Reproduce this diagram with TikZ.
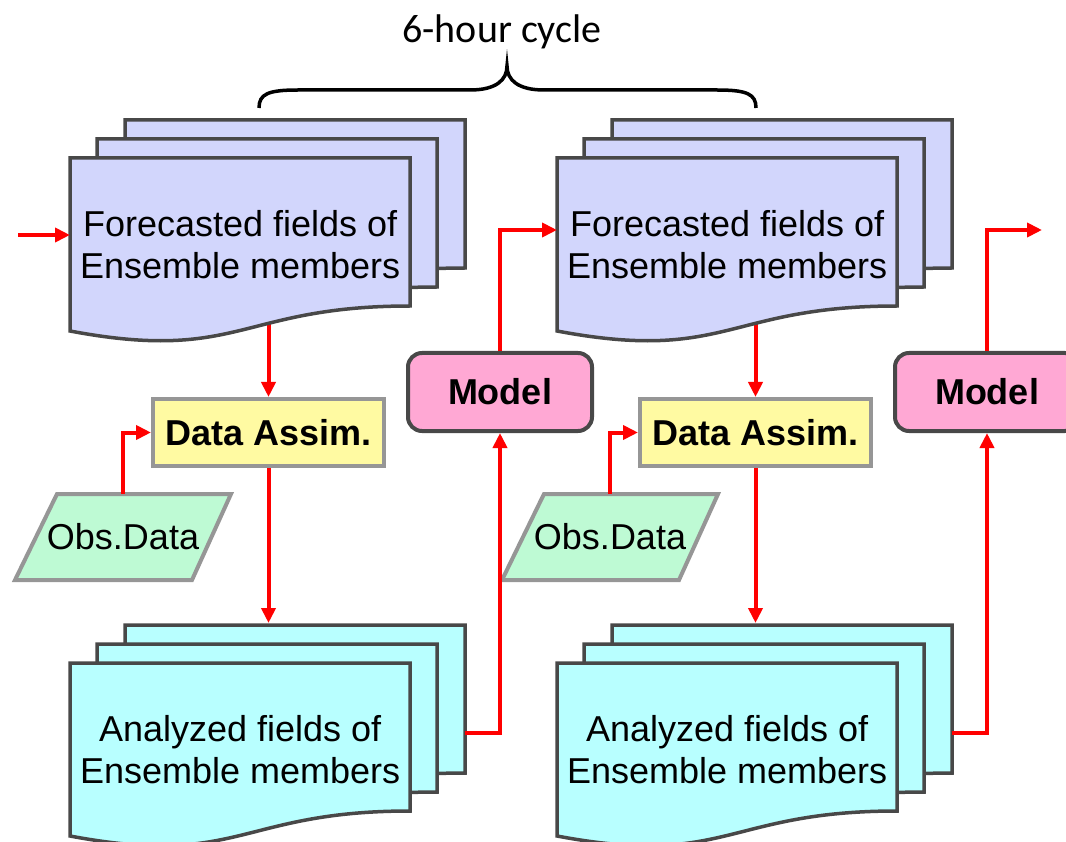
\documentclass[tikz,border=0pt]{standalone}
\usepackage{fontspec}
\setmainfont{Liberation Sans}
\newfontfamily\calib{Carlito}
\usetikzlibrary{arrows.meta,calc}
\pgfdeclarelayer{bg}
\pgfsetlayers{bg,main}
\definecolor{fcfill}{RGB}{210,214,252}
\definecolor{anfill}{RGB}{184,255,255}
\definecolor{dafill}{RGB}{255,250,162}
\definecolor{obfill}{RGB}{190,250,212}
\definecolor{mdfill}{RGB}{255,168,212}
\definecolor{dkline}{RGB}{72,72,72}
\definecolor{gyline}{RGB}{150,150,150}
\newcommand\docsheet[3]{\draw[sheet,fill=#3] (#1,#2) -- (#1+340,#2) -- (#1+340,#2+148) .. controls (#1+170,#2+148) and (#1+170,#2+205) .. (#1,#2+173) -- cycle;}
\newcommand\docstack[3]{\docsheet{#1+55}{#2-38}{#3}\docsheet{#1+27}{#2-19}{#3}\docsheet{#1}{#2}{#3}}
\newcommand\obsshape[1]{\draw[obsline] (#1+57,494) -- (#1+231,494) -- (#1+192,580) -- (#1+15,580) -- cycle;}
\tikzset{
  big/.style={font=\fontsize{36}{42}\selectfont},
  sheet/.style={draw=dkline, line width=3.5pt, line join=miter},
  area/.style={big, minimum width=340, minimum height=173, inner sep=0pt, align=center, anchor=north west},
  backarea/.style={minimum width=340, minimum height=148, inner sep=0pt, anchor=north west},
  dabox/.style={big, font=\fontsize{36}{42}\selectfont\bfseries, draw=gyline, fill=dafill, line width=4pt, minimum width=231, minimum height=67, inner sep=0pt},
  mdbox/.style={big, font=\fontsize{36}{42}\selectfont\bfseries, draw=dkline, fill=mdfill, line width=4pt, rounded corners=14pt, minimum width=184, minimum height=78, inner sep=0pt},
  obsline/.style={draw=gyline, fill=obfill, line width=4pt, line join=miter},
  obs/.style={big, minimum height=86, inner sep=0pt},
  arr/.style={draw=red, line width=4pt, -{Triangle[length=15pt,width=14pt]}},
}
\begin{document}
\begin{tikzpicture}[x=1pt,y=-1pt]
\useasboundingbox (0,0) rectangle (1066,842);
% stacks of sheets
\docstack{70}{158}{fcfill}
\docstack{70}{663}{anfill}
\docstack{557}{158}{fcfill}
\docstack{557}{663}{anfill}
% text / anchor nodes of the sheets
\node[area] (F1) at (70,158) {Forecasted fields of\\Ensemble members};
\node[backarea] (F1b) at (125,120) {};
\node[area] (A1) at (70,663) {Analyzed fields of\\Ensemble members};
\node[backarea] (A1b) at (125,625) {};
\node[area] (F2) at (557,158) {Forecasted fields of\\Ensemble members};
\node[backarea] (F2b) at (612,120) {};
\node[area] (A2) at (557,663) {Analyzed fields of\\Ensemble members};
\node[backarea] (A2b) at (612,625) {};
% process boxes
\node[dabox] (DA1) at (268.5,432.5) {Data Assim.};
\node[dabox] (DA2) at (755.5,432.5) {Data Assim.};
\node[mdbox] (M1) at (500,392) {Model};
\node[mdbox] (M2) at (987,392) {Model};
% observation data
\obsshape{0}
\obsshape{487}
\node[obs] (O1) at (123,537) {Obs.Data};
\node[obs] (O2) at (610,537) {Obs.Data};
% cycle brace
\node[font=\calib\fontsize{40}{48}\selectfont, inner sep=0pt] (cyc) at (502,32) {6-hour cycle};
\draw[line width=3.5pt] (259,108) .. controls (259,94) and (268,90) .. (298,90) -- (470,90) .. controls (496,90) and (507,80) .. (507,66) .. controls (507,80) and (518,90) .. (544,90) -- (717,90) .. controls (747,90) and (756,94) .. (756,108);
% connectors
\coordinate (in) at (18,235);
\coordinate (out) at (1042,230);
\begin{pgfonlayer}{bg}
\draw[arr] (F1.center -| DA1.north) -- (DA1.north);
\draw[arr] (F2.center -| DA2.north) -- (DA2.north);
\end{pgfonlayer}
\draw[arr] (in) -- ([yshift=-77pt]F1.north west);
\draw[arr] (O1.north) |- (DA1.west);
\draw[arr] (DA1.south) -- ([yshift=2pt]DA1.south |- A1b.north);
\draw[arr] ([yshift=-108pt]A1b.north east) -| (M1.south);
\draw[arr] (M1.north) |- ([yshift=-72pt]F2.north west);
\draw[arr] (O2.north) |- (DA2.west);
\draw[arr] (DA2.south) -- ([yshift=2pt]DA2.south |- A2b.north);
\draw[arr] ([yshift=-108pt]A2b.north east) -| (M2.south);
\draw[arr] (M2.north) |- (out);
\end{tikzpicture}
\end{document}
